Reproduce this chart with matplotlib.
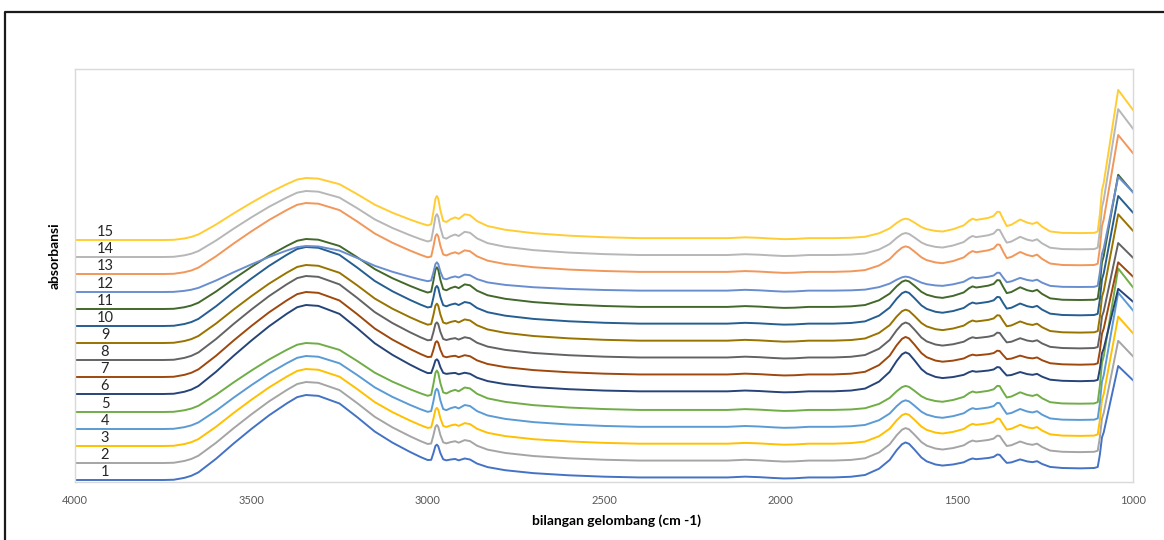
import numpy as np
import matplotlib
matplotlib.use("Agg")
import matplotlib.pyplot as plt
from matplotlib.lines import Line2D

plt.rcParams['font.family'] = ['Lato', 'DejaVu Sans']

# sample names (1..15) and Excel-style series colours
labels = [str(i) for i in range(1, 16)]
colors = ['#4472C4', '#A5A5A5', '#FFC000', '#5B9BD5', '#70AD47',
          '#264478', '#9E480E', '#636363', '#997300', '#255E91',
          '#43682B', '#698ED0', '#F1975A', '#B7B7B7', '#FFCD33']

# per-spectrum values (absorbance, a.u.)
base = [0.02, 0.19, 0.36, 0.53, 0.70, 0.88, 1.05, 1.22, 1.39, 1.56, 1.73, 1.90, 2.08, 2.25, 2.42]
oh_band = [0.85, 0.81, 0.77, 0.73, 0.69, 0.89, 0.85, 0.84, 0.78, 0.79, 0.70, 0.46, 0.71, 0.66, 0.62]
ch_band = [0.175, 0.21, 0.22, 0.25, 0.27, 0.16, 0.18, 0.20, 0.23, 0.235, 0.27, 0.20, 0.25, 0.29, 0.31]
amide_band = [0.35, 0.325, 0.30, 0.265, 0.24, 0.39, 0.375, 0.35, 0.31, 0.32, 0.265, 0.14, 0.255, 0.22, 0.195]
fp_band = [0.12, 0.15, 0.16, 0.16, 0.17, 0.12, 0.12, 0.14, 0.16, 0.17, 0.19, 0.14, 0.20, 0.19, 0.21]
edge_band = [1.02, 1.11, 1.19, 1.27, 1.35, 0.92, 1.02, 1.05, 1.18, 1.19, 1.25, 1.10, 1.30, 1.40, 1.43]

# band profiles, on one shared wavenumber list
wn = [4000, 3850, 3750, 3720, 3690, 3670, 3650, 3600, 3550, 3500, 3450, 3400, 3370, 3345,
      3310, 3250, 3200, 3150, 3100, 3050, 3020, 3000, 2990, 2984, 2978, 2974, 2970, 2964,
      2956, 2947, 2935, 2922, 2912, 2895, 2880, 2860, 2830, 2780, 2700, 2600, 2500, 2400,
      2200, 2150, 2100, 2060, 2020, 1990, 1960, 1920, 1850, 1800, 1760, 1720, 1690, 1670,
      1655, 1645, 1635, 1620, 1600, 1585, 1560, 1540, 1510, 1480, 1465, 1455, 1445, 1430,
      1410, 1395, 1385, 1378, 1368, 1358, 1345, 1320, 1300, 1285, 1272, 1258, 1235, 1200,
      1150, 1110, 1100, 1094, 1088, 1083, 1042, 1000]
oh_shape = [0, 0, 0, 0.003, 0.025, 0.05, 0.09, 0.25, 0.43, 0.60, 0.76, 0.90, 0.975, 1.0,
            0.99, 0.90, 0.74, 0.57, 0.44, 0.33, 0.27, 0.235, 0.225, 0.22, 0.215, 0.21, 0.208, 0.204,
            0.198, 0.19, 0.175, 0.165, 0.155, 0.14, 0.13, 0.115, 0.10, 0.08, 0.06, 0.045, 0.035, 0.03,
            0.03, 0.03, 0.03, 0.03, 0.03, 0.03, 0.03, 0.03, 0.03, 0.03, 0.03, 0.03, 0.03, 0.03,
            0.03, 0.03, 0.03, 0.03, 0.03, 0.03, 0.03, 0.03, 0.03, 0.03, 0.03, 0.03, 0.03, 0.03,
            0.03, 0.03, 0.03, 0.03, 0.03, 0.03, 0.03, 0.03, 0.03, 0.03, 0.03, 0.03, 0.03, 0.03,
            0.03, 0.03, 0.03, 0.03, 0.03, 0.03, 0.03, 0.03]
ch_shape = [0, 0, 0, 0, 0, 0, 0, 0, 0, 0, 0, 0, 0, 0,
            0, 0, 0, 0, 0, 0, 0, 0, 0.06, 0.45, 0.9, 1.0, 0.92, 0.55,
            0.22, 0.2, 0.32, 0.4, 0.37, 0.55, 0.54, 0.38, 0.25, 0.17, 0.10, 0.05, 0.02, 0,
            0, 0, 0, 0, 0, 0, 0, 0, 0, 0, 0, 0, 0, 0,
            0, 0, 0, 0, 0, 0, 0, 0, 0, 0, 0, 0, 0, 0,
            0, 0, 0, 0, 0, 0, 0, 0, 0, 0, 0, 0, 0, 0,
            0, 0, 0, 0, 0, 0, 0, 0]
co2_shape = [0, 0, 0, 0, 0, 0, 0, 0, 0, 0, 0, 0, 0, 0,
             0, 0, 0, 0, 0, 0, 0, 0, 0, 0, 0, 0, 0, 0,
             0, 0, 0, 0, 0, 0, 0, 0, 0, 0, 0, 0, 0, 0,
             0, 0, 0.008, 0.003, -0.005, -0.01, -0.008, 0, 0, 0, 0, 0, 0, 0,
             0, 0, 0, 0, 0, 0, 0, 0, 0, 0, 0, 0, 0, 0,
             0, 0, 0, 0, 0, 0, 0, 0, 0, 0, 0, 0, 0, 0,
             0, 0, 0, 0, 0, 0, 0, 0]
amide_shape = [0, 0, 0, 0, 0, 0, 0, 0, 0, 0, 0, 0, 0, 0,
               0, 0, 0, 0, 0, 0, 0, 0, 0, 0, 0, 0, 0, 0,
               0, 0, 0, 0, 0, 0, 0, 0, 0, 0, 0, 0, 0, 0,
               0, 0, 0, 0, 0, 0, 0, 0, 0, 0.02, 0.07, 0.25, 0.5, 0.78,
               0.95, 1.0, 0.96, 0.8, 0.57, 0.46, 0.37, 0.34, 0.33, 0.33, 0.33, 0.33, 0.33, 0.33,
               0.33, 0.33, 0.33, 0.32, 0.32, 0.32, 0.31, 0.31, 0.30, 0.30, 0.30, 0.29, 0.28, 0.27,
               0.26, 0.27, 0.27, 0.27, 0.27, 0.27, 0.27, 0.27]
fp_shape = [0, 0, 0, 0, 0, 0, 0, 0, 0, 0, 0, 0, 0, 0,
            0, 0, 0, 0, 0, 0, 0, 0, 0, 0, 0, 0, 0, 0,
            0, 0, 0, 0, 0, 0, 0, 0, 0, 0, 0, 0, 0, 0,
            0, 0, 0, 0, 0, 0, 0, 0, 0, 0, 0, 0, 0, 0,
            0, 0, 0, 0, 0, 0, 0, 0, 0.12, 0.3, 0.52, 0.62, 0.56, 0.6,
            0.66, 0.75, 0.95, 0.95, 0.6, 0.28, 0.35, 0.6, 0.46, 0.4, 0.48, 0.28, 0.06, 0,
            0, 0, 0, 0, 0, 0, 0, 0]
edge_shape = [0, 0, 0, 0, 0, 0, 0, 0, 0, 0, 0, 0, 0, 0,
              0, 0, 0, 0, 0, 0, 0, 0, 0, 0, 0, 0, 0, 0,
              0, 0, 0, 0, 0, 0, 0, 0, 0, 0, 0, 0, 0, 0,
              0, 0, 0, 0, 0, 0, 0, 0, 0, 0, 0, 0, 0, 0,
              0, 0, 0, 0, 0, 0, 0, 0, 0, 0, 0, 0, 0, 0,
              0, 0, 0, 0, 0, 0, 0, 0, 0, 0, 0, 0, 0, 0,
              0, 0, 0.01, 0.13, 0.3, 0.35, 1.0, 0.86]

wn = np.array(wn)
shapes = [np.array(s) for s in (oh_shape, ch_shape, amide_shape, fp_shape, edge_shape)]
co2 = np.array(co2_shape)

fig = plt.figure(figsize=(11.64, 5.4), dpi=100)
ax = fig.add_axes([75 / 1164, 58 / 540, 1058 / 1164, 413 / 540])

for i in range(len(labels)):
    amps = (oh_band[i], ch_band[i], amide_band[i], fp_band[i], edge_band[i])
    y = base[i] + co2 + sum(a * s for a, s in zip(amps, shapes))
    ax.plot(wn, y, color=colors[i], lw=1.4, solid_joinstyle='round')
    ax.text(3915, base[i] + 0.08, labels[i], ha='center', va='center',
            fontsize=10.5, color='#262626')

ax.set_xlim(4000, 1000)
ax.set_ylim(0, 4.13)
ax.set_xticks(np.arange(4000, 999, -500))
ax.set_xticklabels([str(v) for v in range(4000, 999, -500)])
ax.set_yticks([])
ax.tick_params(axis='x', length=0, pad=9, labelsize=8, labelcolor='#595959')
for sp in ax.spines.values():
    sp.set_color('#D9D9D9')
    sp.set_linewidth(1.0)

fig.text(616 / 1164, 1 - 521 / 540, 'bilangan gelombang (cm -1)', ha='center', va='center',
         fontsize=10, fontweight='bold', color='#000000')
fig.text(55 / 1164, 1 - 256 / 540, 'absorbansi', ha='center', va='center', rotation=90,
         fontsize=10, fontweight='bold', color='#000000')

# dark frame at the top and left of the picture
fig.add_artist(Line2D([4.5 / 1164, 4.5 / 1164, 1], [0, 1 - 11.5 / 540, 1 - 11.5 / 540],
                      transform=fig.transFigure, color='#1a1a1a', lw=1.6))

fig.savefig('out.png', dpi=100)
